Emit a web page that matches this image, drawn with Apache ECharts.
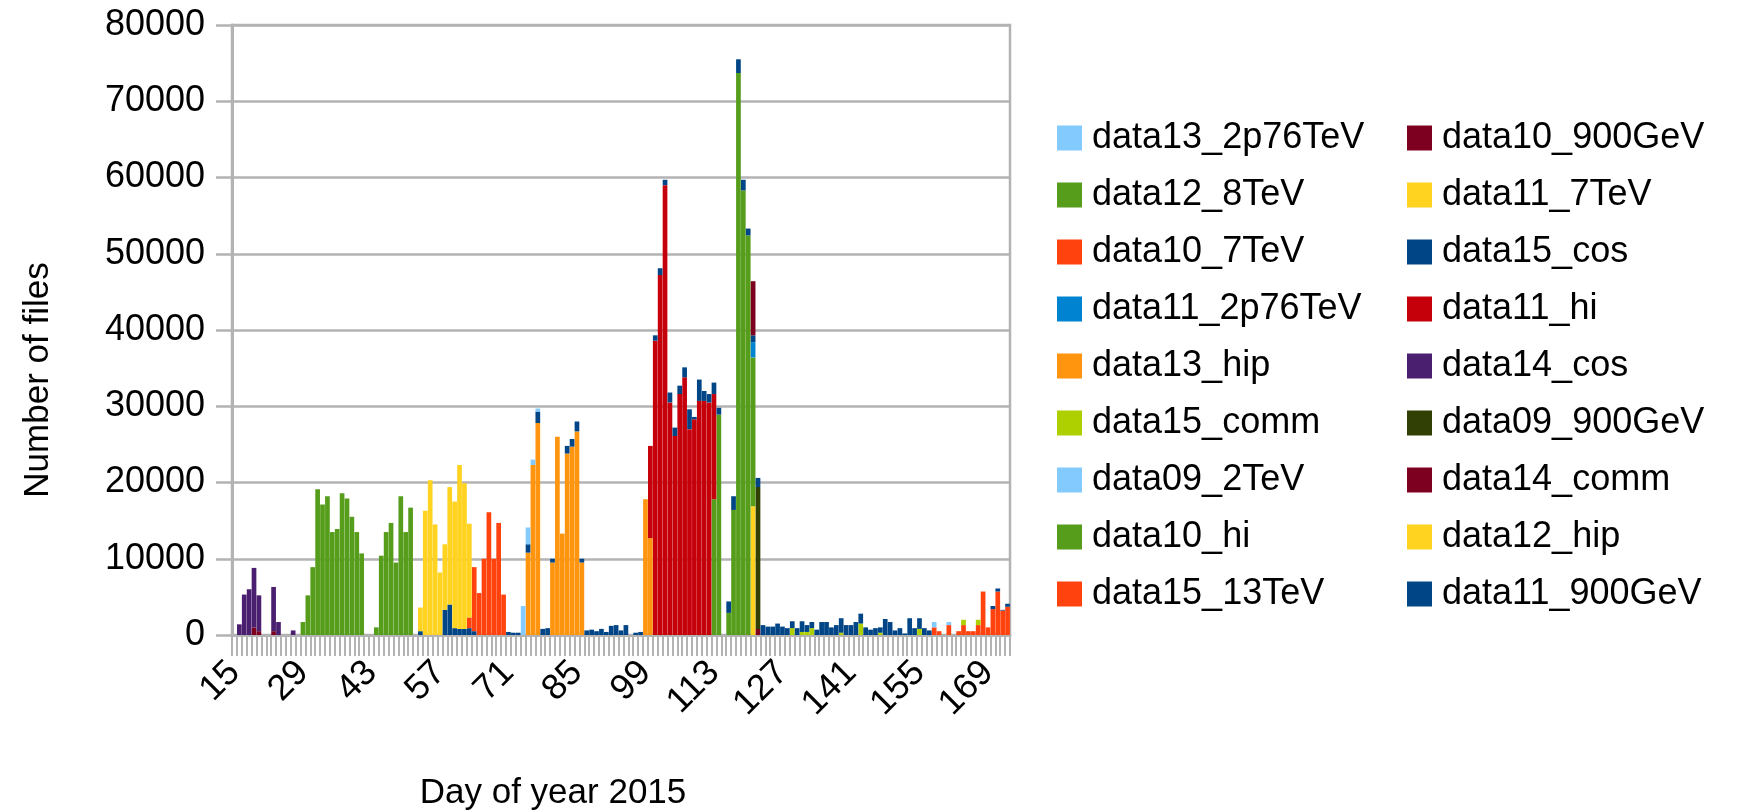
<!DOCTYPE html>
<html>
<head>
<meta charset="utf-8">
<title>Files per day</title>
<script src="https://cdn.jsdelivr.net/npm/echarts@6/dist/echarts.min.js"></script>
<style>
  html, body { margin: 0; padding: 0; background: #fff; }
  #chart { width: 1739px; height: 812px; }
</style>
</head>
<body>
<div id="chart"></div>
<script>
const firstDay = 15
const lastDay = 173
const days = []
for (let d = firstDay; d <= lastDay; d++) days.push(String(d))

// place runs of daily values (from a given day) on the full day axis
function span (...runs) {
  const out = new Array(days.length).fill(0)
  runs.forEach(([from, values]) => {
    values.forEach((v, i) => { out[from - firstDay + i] = v })
  })
  return out
}

// number of files per day, one array per data project
const data11_900GeV = span([53, [500, 0, 0, 0, 0, 3300, 4000, 900, 800, 800, 900, 500]])
const data15_13TeV = span([158, [1000, 500, 0, 1300, 0, 500, 1300, 500, 500, 1300, 5700, 1000, 3400, 5700, 3200, 3700]])
const data12_hip = span([121, [16900]])
const data10_hi = span([113, [17800, 28900, 0, 2900, 16400, 73700, 58300, 52400, 19500]])
const data14_comm = span([19, [1000, 500, 0, 0, 500]], [122, [800]])
const data09_2TeV = span()
const data09_900GeV = span([122, [18600]])
const data15_comm = span([129, [900, 0, 400, 400, 900, 0, 0, 0, 0, 0, 300, 0, 0, 0, 1500, 0, 0, 0, 300, 0, 0, 0, 0, 0, 0, 0, 800, 0, 0, 0, 0, 0, 0, 0, 0, 700, 0, 0, 700]])
const data14_cos = span([16, [1400, 5300, 6000, 7800, 4700, 0, 0, 5800, 1700, 0, 0, 600]])
const data13_hip = span([75, [10800, 22300, 27800, 0, 0, 9500, 26000, 13300, 23800, 24700, 26700, 9500]], [99, [17800, 12700]])
const data11_hi = span([100, [12100, 38600, 47200, 59000, 30500, 26100, 31600, 33800, 27000, 28300, 30700, 30700, 30500, 13800]])
const data11_2p76TeV = span([121, [2000]])
const data15_cos = span([71, [
  400, 300, 300, 0, 1100, 0, 1500, 800, 900, 500,
  0, 0, 1000, 1000, 1300, 500, 600, 700, 500, 800,
  400, 1200, 1300, 600, 1300, 0, 300, 400, 0, 0,
  700, 900, 700, 1300, 1100, 1100, 1300, 2600, 300, 2800,
  1300, 1100, 1500, 900, 0, 1500, 1800, 1800, 1400, 900,
  900, 1200, 1300, 1100, 1100, 1500, 1100, 900, 900, 900,
  1400, 900, 800, 700, 1700, 1700, 1000, 1300, 1900, 1300,
  1300, 1700, 1300, 1000, 700, 900, 700, 2100, 1700, 600,
  900, 200, 2200, 900, 1400, 900, 600, 0, 0, 0,
  0, 0, 0, 0, 0, 0, 0, 0, 0, 400,
  400, 100, 400
]])
const data10_7TeV = span([63, [1400, 8400, 5500, 10000, 16100, 10000, 14700, 5300]])
const data11_7TeV = span([53, [3100, 16300, 20300, 14500, 8200, 8600, 15400, 16600, 21500, 19100, 12300]])
const data12_8TeV = span([29, [1700, 5200, 8900, 19100, 17100, 18200, 13500, 13900, 18600, 17900, 15500, 13500, 10700, 0, 0, 1000, 10400, 13500, 14700, 9500, 18200, 13500, 16700]])
const data10_900GeV = span([121, [7100]])
const data13_2p76TeV = span([74, [3800, 2200, 700, 400]], [158, [700, 0, 0, 400]])

// stacking order, bottom first
const stackOrder = [
  ['data11_900GeV', data11_900GeV, '#004586'],
  ['data15_13TeV', data15_13TeV, '#ff420e'],
  ['data12_hip', data12_hip, '#ffd320'],
  ['data10_hi', data10_hi, '#579d1c'],
  ['data14_comm', data14_comm, '#7e0021'],
  ['data09_2TeV', data09_2TeV, '#83caff'],
  ['data09_900GeV', data09_900GeV, '#314004'],
  ['data15_comm', data15_comm, '#aecf00'],
  ['data14_cos', data14_cos, '#4b1f6f'],
  ['data13_hip', data13_hip, '#ff950e'],
  ['data11_hi', data11_hi, '#c5000b'],
  ['data11_2p76TeV', data11_2p76TeV, '#0084d1'],
  ['data15_cos', data15_cos, '#004586'],
  ['data10_7TeV', data10_7TeV, '#ff420e'],
  ['data11_7TeV', data11_7TeV, '#ffd320'],
  ['data12_8TeV', data12_8TeV, '#579d1c'],
  ['data10_900GeV', data10_900GeV, '#7e0021'],
  ['data13_2p76TeV', data13_2p76TeV, '#83caff']
]
const legendLeft = ['data13_2p76TeV', 'data12_8TeV', 'data10_7TeV', 'data11_2p76TeV', 'data13_hip', 'data15_comm', 'data09_2TeV', 'data10_hi', 'data15_13TeV']
const legendRight = ['data10_900GeV', 'data11_7TeV', 'data15_cos', 'data11_hi', 'data14_cos', 'data09_900GeV', 'data14_comm', 'data12_hip', 'data11_900GeV']

const font = '"Liberation Sans", Arial, sans-serif'
const gridGray = '#b3b3b3'

function legendAt (left, names) {
  return {
    orient: 'vertical',
    left: left,
    top: 120,
    padding: 0,
    itemWidth: 25,
    itemHeight: 25,
    itemGap: 21,
    icon: 'rect',
    selectedMode: false,
    data: names,
    textStyle: { fontFamily: font, fontSize: 36, color: '#000', lineHeight: 36, padding: [0, 0, 0, 5] }
  }
}

const chart = echarts.init(document.getElementById('chart'))
const option = {
  animation: false,
  backgroundColor: '#fff',
  grid: {
    left: 232,
    right: 729,
    top: 25,
    bottom: 177,
    show: true,
    borderColor: gridGray,
    borderWidth: 2.5
  },
  legend: [legendAt(1057, legendLeft), legendAt(1407, legendRight)],
  xAxis: {
    type: 'category',
    data: days,
    axisLine: { lineStyle: { color: gridGray, width: 3 } },
    axisTick: { show: true, interval: 0, length: 21, lineStyle: { color: gridGray, width: 2 } },
    axisLabel: {
      interval: 13,
      rotate: 45,
      margin: 32,
      fontFamily: font,
      fontSize: 36,
      color: '#000'
    }
  },
  yAxis: {
    type: 'value',
    min: 0,
    max: 80000,
    interval: 10000,
    axisLine: { show: true, lineStyle: { color: gridGray, width: 3 } },
    axisTick: { show: true, length: 16, lineStyle: { color: gridGray, width: 2.5 } },
    splitLine: { lineStyle: { color: gridGray, width: 2.5 } },
    axisLabel: {
      margin: 27,
      fontFamily: font,
      fontSize: 36,
      color: '#000',
      formatter: v => String(v)
    }
  },
  graphic: [
    {
      type: 'text',
      x: 38,
      y: 380,
      rotation: Math.PI / 2,
      style: {
        text: 'Number of files',
        font: '35px "Liberation Sans", Arial, sans-serif',
        fill: '#000',
        textAlign: 'center',
        textVerticalAlign: 'middle',
        align: 'center',
        verticalAlign: 'middle'
      }
    },
    {
      type: 'text',
      x: 553,
      y: 793,
      style: {
        text: 'Day of year 2015',
        font: '35px "Liberation Sans", Arial, sans-serif',
        fill: '#000',
        textAlign: 'center',
        textVerticalAlign: 'middle',
        align: 'center',
        verticalAlign: 'middle'
      }
    }
  ],
  series: stackOrder.map(([name, values, color]) => ({
    name: name,
    type: 'bar',
    stack: 'files',
    barCategoryGap: '4%',
    itemStyle: { color: color },
    data: values
  }))
}
chart.setOption(option)
</script>
</body>
</html>
